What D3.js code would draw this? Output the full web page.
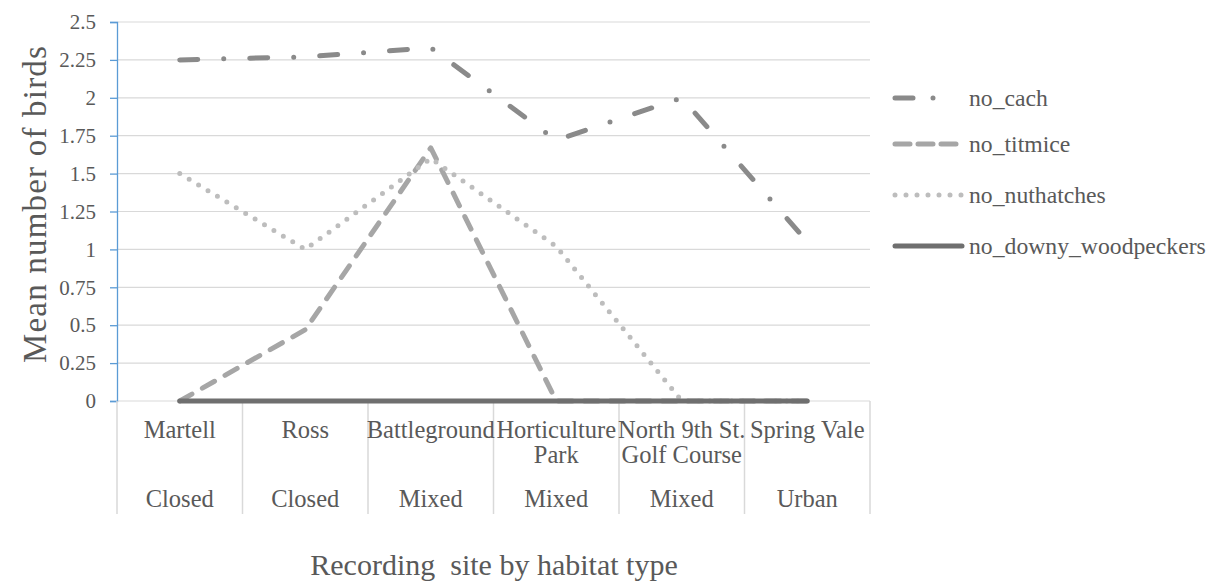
<!DOCTYPE html>
<html>
<head>
<meta charset="utf-8">
<script src="https://cdn.jsdelivr.net/npm/d3@7"></script>
<style>
  body { margin: 0; background: #fff; }
</style>
</head>
<body>
<div id="chart"></div>
<script>
// sites along the x axis, with the habitat row under them
var sites = ["Martell", "Ross", "Battleground", "Horticulture Park", "North 9th St. Golf Course", "Spring Vale"];
var siteLines = [["Martell"], ["Ross"], ["Battleground"], ["Horticulture", "Park"], ["North 9th St.", "Golf Course"], ["Spring Vale"]];
var habitats = ["Closed", "Closed", "Mixed", "Mixed", "Mixed", "Urban"];
var yTicks = [0, 0.25, 0.5, 0.75, 1, 1.25, 1.5, 1.75, 2, 2.25, 2.5];

// series values
var seriesNames = ["no_cach", "no_titmice", "no_nuthatches", "no_downy_woodpeckers"];
var no_cach = [2.25, 2.27, 2.33, 1.72, 2.0, 1.05];
var no_titmice = [0, 0.47, 1.67, 0, 0, 0];
var no_nuthatches = [1.5, 1.0, 1.6, 1.02, 0, 0];
var no_downy_woodpeckers = [0, 0, 0, 0, 0, 0];

var series = [
  {name: seriesNames[0], values: no_cach, color: "#8a8a8a", width: 5, dash: "18,26,0,26"},
  {name: seriesNames[1], values: no_titmice, color: "#a6a6a6", width: 5, dash: "14,12"},
  {name: seriesNames[2], values: no_nuthatches, color: "#bdbdbd", width: 5, dash: "0,11"},
  {name: seriesNames[3], values: no_downy_woodpeckers, color: "#6f6f6f", width: 5, dash: null}
];

var W = 1214, H = 582;
var plotLeft = 117, plotRight = 870, plotTop = 22, plotBottom = 401;
var FONT = "'Liberation Serif'";
var ink = "#595959";

var svg = d3.select("#chart").append("svg")
  .attr("width", W)
  .attr("height", H);

var x = d3.scaleBand().domain(sites).range([plotLeft, plotRight]).padding(0);
var y = d3.scaleLinear().domain([0, 2.5]).range([plotBottom, plotTop]);
var cx = function(i) { return x(sites[i]) + x.bandwidth() / 2; };

// gridlines
svg.append("g").selectAll("line")
  .data(yTicks)
  .enter().append("line")
    .attr("x1", plotLeft).attr("x2", plotRight)
    .attr("y1", function(d) { return y(d); })
    .attr("y2", function(d) { return y(d); })
    .attr("stroke", "#d9d9d9")
    .attr("stroke-width", 1.2);

// y axis (blue, Excel style)
var yAxis = svg.append("g")
  .attr("transform", "translate(" + plotLeft + ",0)")
  .call(d3.axisLeft(y).tickValues(yTicks).tickSize(7).tickPadding(14)
    .tickFormat(function(d) { return String(d); }));
yAxis.select(".domain").attr("stroke", "#5b9bd5").attr("stroke-width", 1.3);
yAxis.selectAll(".tick line").attr("stroke", "#5b9bd5").attr("stroke-width", 1.3);
yAxis.selectAll(".tick text")
  .style("font-family", FONT)
  .style("font-size", "21px")
  .style("fill", ink);

// category dividers below the axis
var edges = sites.map(function(s) { return x(s); }).concat([plotRight]);
svg.append("g").selectAll("line")
  .data(edges)
  .enter().append("line")
    .attr("x1", function(d) { return d; })
    .attr("x2", function(d) { return d; })
    .attr("y1", plotBottom).attr("y2", 514)
    .attr("stroke", "#d9d9d9")
    .attr("stroke-width", 1.5);

// site labels
siteLines.forEach(function(lines, i) {
  var t = svg.append("text")
    .attr("x", cx(i))
    .attr("y", 438)
    .attr("text-anchor", "middle")
    .style("font-family", FONT)
    .style("font-size", "24.5px")
    .style("fill", ink);
  lines.forEach(function(l, j) {
    t.append("tspan").attr("x", cx(i)).attr("dy", j == 0 ? 0 : 25).text(l);
  });
});

// habitat labels
svg.append("g").selectAll("text")
  .data(habitats)
  .enter().append("text")
    .attr("x", function(d, i) { return cx(i); })
    .attr("y", 507)
    .attr("text-anchor", "middle")
    .style("font-family", FONT)
    .style("font-size", "24.5px")
    .style("fill", ink)
    .text(function(d) { return d; });

// lines, woodpeckers drawn last so it sits on top
var line = d3.line()
  .x(function(d, i) { return cx(i); })
  .y(function(d) { return y(d); });

series.forEach(function(s) {
  svg.append("path")
    .datum(s.values)
    .attr("d", line)
    .attr("fill", "none")
    .attr("stroke", s.color)
    .attr("stroke-width", s.width)
    .attr("stroke-linecap", "round")
    .attr("stroke-linejoin", "round")
    .attr("stroke-dasharray", s.dash);
});

// legend
var legendY = [98, 144, 195, 246];
var lg = svg.append("g");
series.forEach(function(s, i) {
  lg.append("line")
    .attr("x1", 895).attr("x2", 962)
    .attr("y1", legendY[i]).attr("y2", legendY[i])
    .attr("stroke", s.color)
    .attr("stroke-width", s.width)
    .attr("stroke-linecap", "round")
    .attr("stroke-dasharray", i == 0 ? "18,20,0,100" : (i == 1 ? "15,8" : s.dash));
  lg.append("text")
    .attr("x", 969)
    .attr("y", legendY[i])
    .attr("dy", "0.35em")
    .style("font-family", FONT)
    .style("font-size", "23.7px")
    .style("fill", ink)
    .text(s.name);
});

// axis titles
svg.append("text")
  .attr("transform", "translate(46,204) rotate(-90)")
  .attr("text-anchor", "middle")
  .style("font-family", FONT)
  .style("font-size", "33px")
  .style("letter-spacing", "1.2px")
  .style("fill", ink)
  .text("Mean number of birds");

svg.append("text")
  .attr("x", 494)
  .attr("y", 575)
  .attr("text-anchor", "middle")
  .style("font-family", FONT)
  .style("font-size", "30px")
  .style("fill", ink)
  .style("white-space", "pre")
  .text("Recording  site by habitat type");
</script>
</body>
</html>
